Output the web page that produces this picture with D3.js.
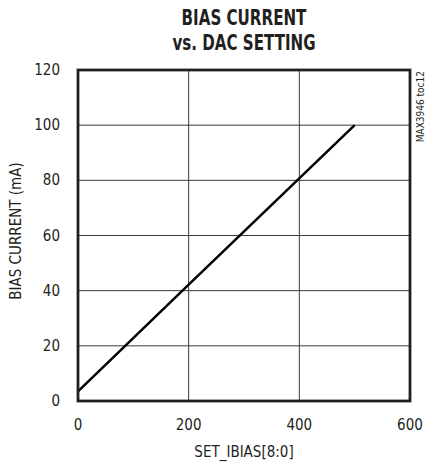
<!DOCTYPE html>
<html>
<head>
<meta charset="utf-8">
<script src="https://cdn.jsdelivr.net/npm/d3@7"></script>
<style>
body { margin: 0; background: #fff; }
text { font-family: "DejaVu Sans Condensed", "Liberation Sans Narrow", sans-serif; fill: #231f20; }
</style>
</head>
<body>
<svg width="427" height="464"></svg>
<script>
// data
var dacSetting = [0, 200, 500];
var biasCurrent = [3.5, 42.2, 100];
var xTicks = [0, 200, 400, 600];
var yTicks = [0, 20, 40, 60, 80, 100, 120];

function draw(){
  var svg = d3.select("svg");
  var pl = 78, pt = 70, pr = 410, pb = 401;

  var x = d3.scaleLinear().domain([0, 600]).range([pl, pr]);
  var y = d3.scaleLinear().domain([0, 120]).range([pb, pt]);

  // grid
  svg.append("g")
    .selectAll("line").data(xTicks.slice(1, -1)).enter().append("line")
    .attr("x1", function(d){return x(d);}).attr("x2", function(d){return x(d);})
    .attr("y1", pt).attr("y2", pb)
    .attr("stroke", "#3a3a3a").attr("stroke-width", 1);
  svg.append("g")
    .selectAll("line").data(yTicks.slice(1, -1)).enter().append("line")
    .attr("y1", function(d){return y(d);}).attr("y2", function(d){return y(d);})
    .attr("x1", pl).attr("x2", pr)
    .attr("stroke", "#3a3a3a").attr("stroke-width", 1);

  // data line
  var pts = dacSetting.map(function(d,i){return [d, biasCurrent[i]];});
  svg.append("path")
    .datum(pts)
    .attr("d", d3.line().x(function(d){return x(d[0]);}).y(function(d){return y(d[1]);}))
    .attr("fill", "none").attr("stroke", "#000").attr("stroke-width", 2.5);

  // frame
  svg.append("rect")
    .attr("x", pl).attr("y", pt)
    .attr("width", pr - pl).attr("height", pb - pt)
    .attr("fill", "none").attr("stroke", "#231f20").attr("stroke-width", 2.8);

  // tick labels
  svg.append("g").selectAll("text").data(xTicks).enter().append("text")
    .attr("x", function(d){return x(d);}).attr("y", 430)
    .attr("text-anchor", "middle").attr("font-size", "15px")
    .text(function(d){return d;});
  svg.append("g").selectAll("text").data(yTicks).enter().append("text")
    .attr("x", 60).attr("y", function(d){return y(d) + 5;})
    .attr("text-anchor", "end").attr("font-size", "15px")
    .text(function(d){return d;});

  // axis titles
  svg.append("text")
    .attr("x", (pl + pr) / 2).attr("y", 457)
    .attr("text-anchor", "middle").attr("font-size", "15px")
    .text("SET_IBIAS[8:0]");
  svg.append("text")
    .attr("transform", "translate(21,231) rotate(-90)")
    .attr("text-anchor", "middle").attr("font-size", "15px")
    .text("BIAS CURRENT (mA)");

  // title, squeezed to look like a heavy condensed face
  var tg = svg.append("g")
    .attr("transform", "translate(" + ((pl + pr) / 2) + ",0) scale(0.8,1)");
  tg.append("text")
    .attr("x", 0).attr("y", 25)
    .attr("text-anchor", "middle").attr("font-size", "21px").attr("font-weight", "bold")
    .text("BIAS CURRENT");
  tg.append("text")
    .attr("x", 0).attr("y", 50)
    .attr("text-anchor", "middle").attr("font-size", "21px").attr("font-weight", "bold")
    .text("vs. DAC SETTING");

  // side tag, reads bottom to top
  svg.append("text")
    .attr("transform", "translate(424," + (pt + 1) + ") rotate(-90)")
    .attr("text-anchor", "end")
    .attr("font-size", "10px")
    .text("MAX3946 toc12");
}
draw();
</script>
</body>
</html>
